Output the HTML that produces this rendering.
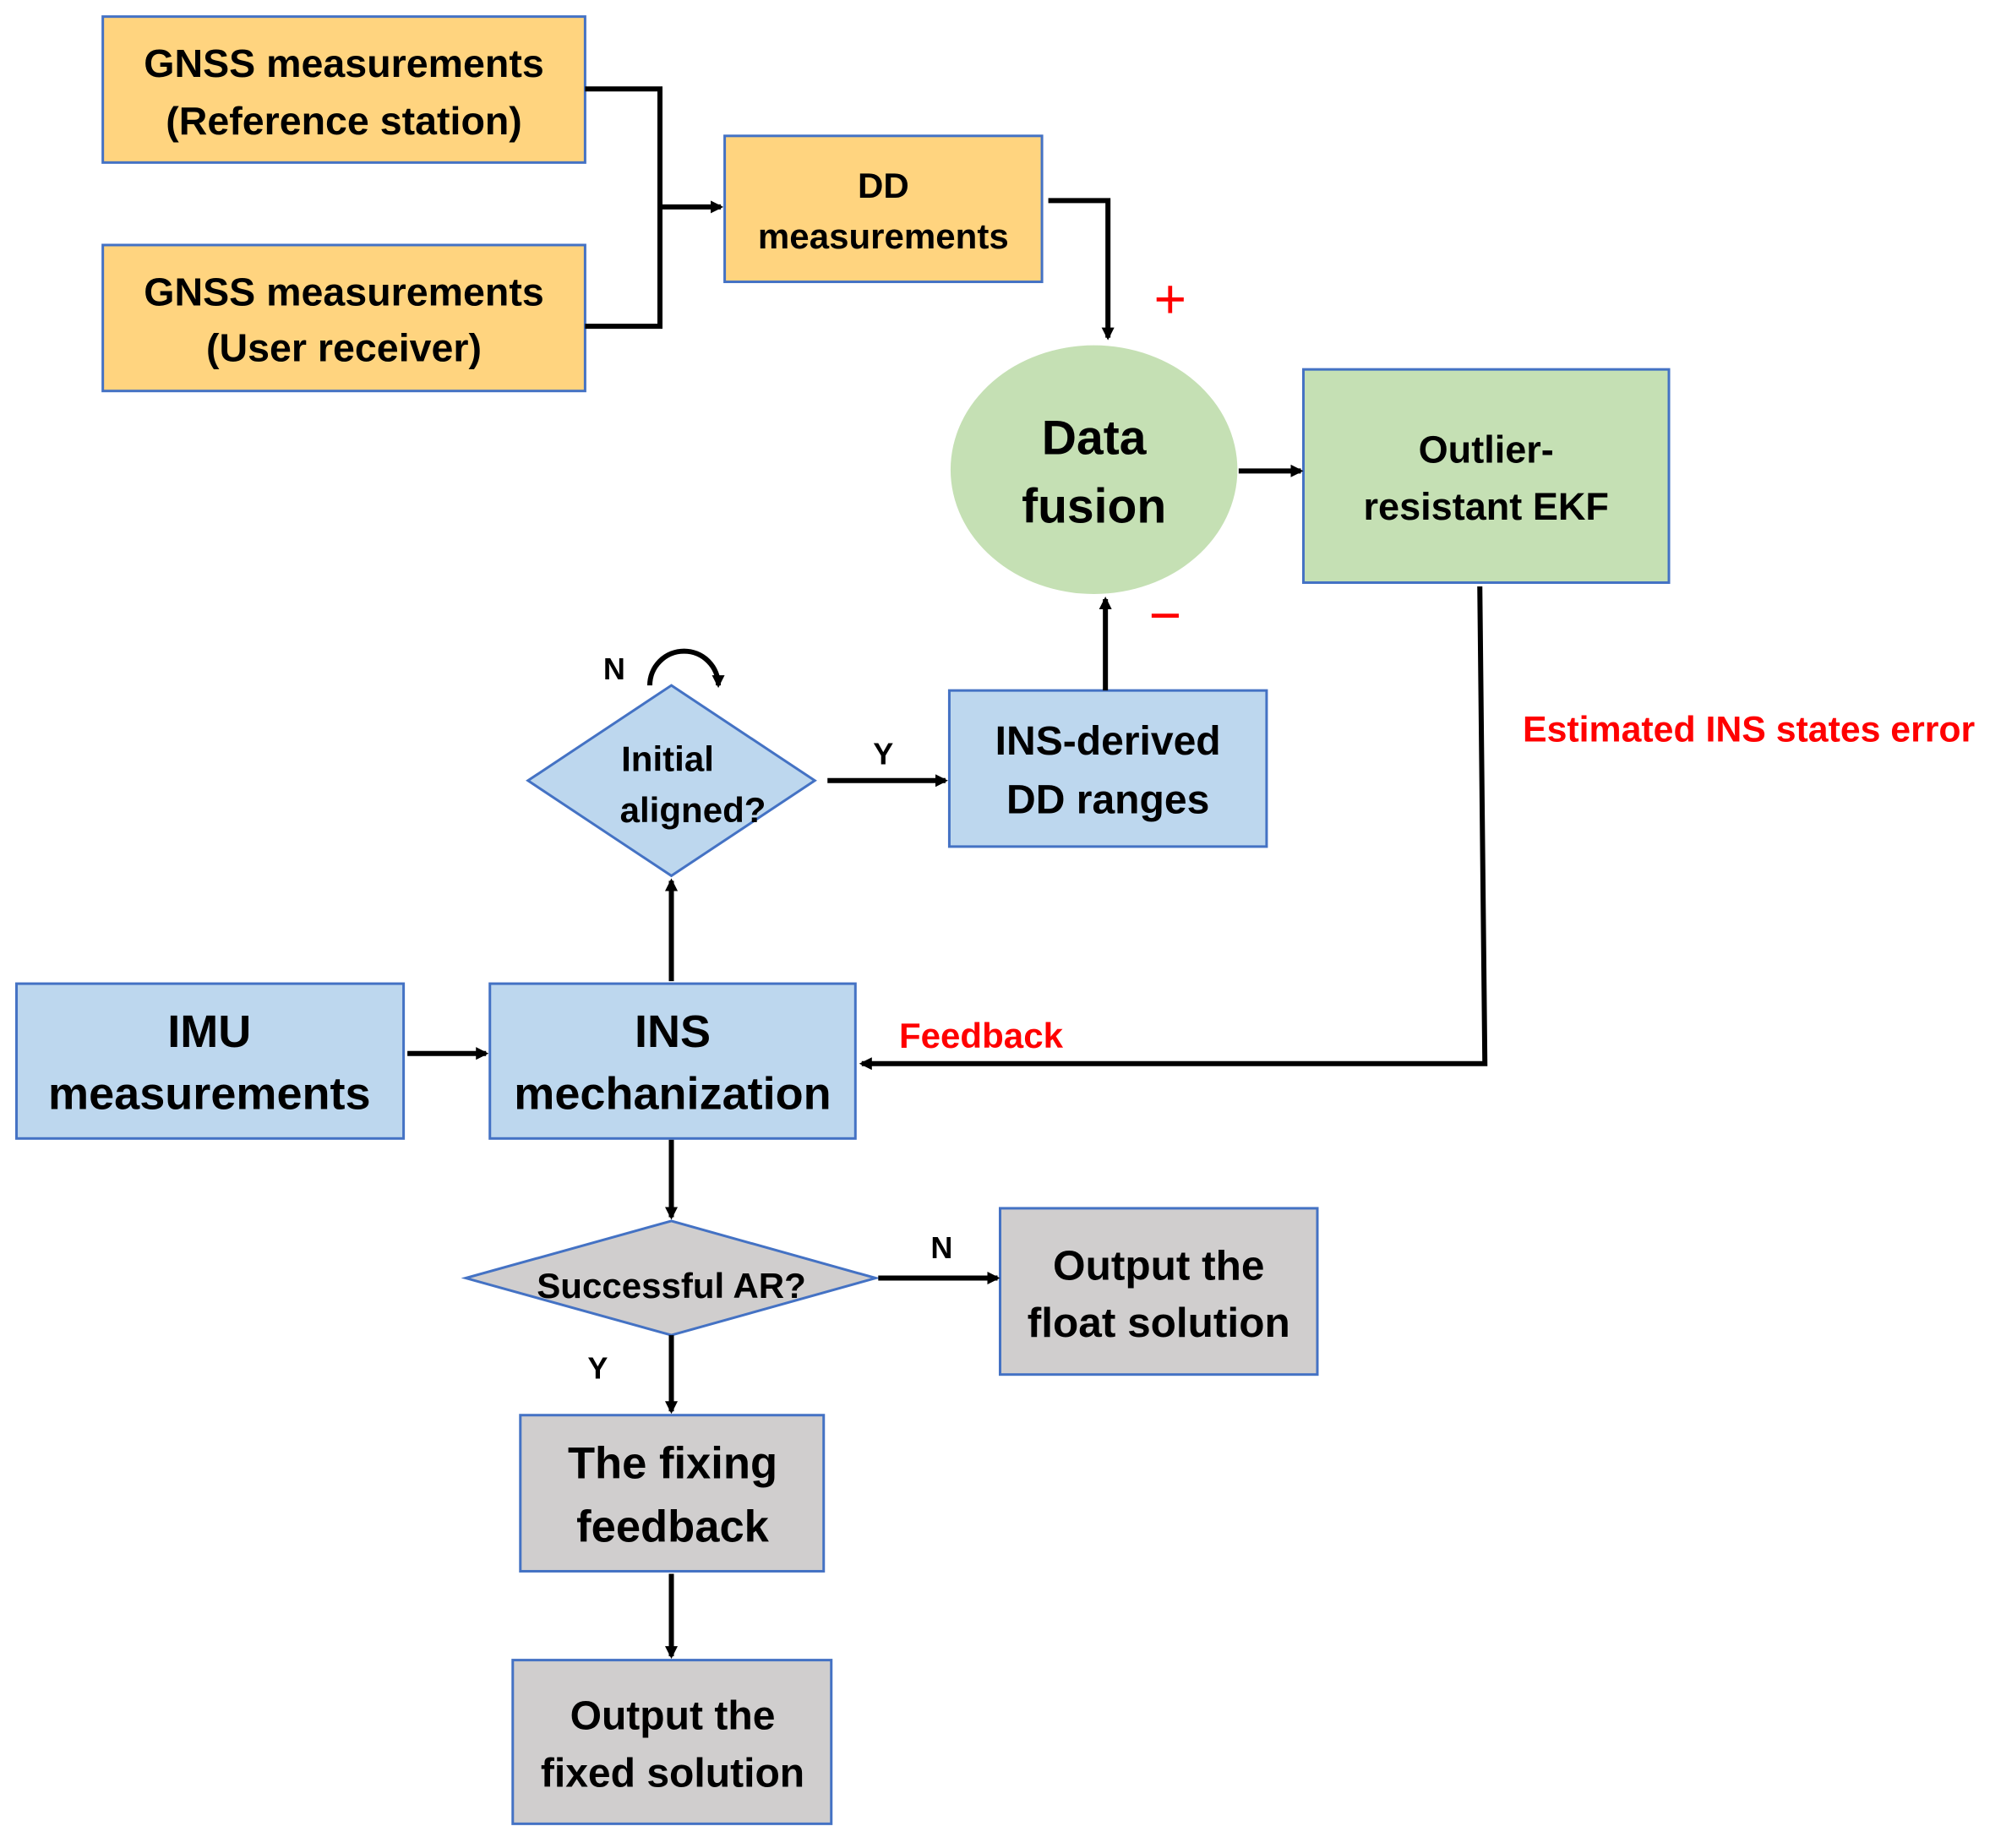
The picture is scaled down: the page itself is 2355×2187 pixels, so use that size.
<!DOCTYPE html>
<html><head><meta charset="utf-8"><style>
html,body{margin:0;padding:0;background:#fff;}
svg{display:block;}
text{font-family:"Liberation Sans",sans-serif;font-weight:bold;fill:#000;text-anchor:middle;dominant-baseline:central;}
</style></head><body>
<svg width="2355" height="2187" viewBox="0 0 1568 1456" xmlns="http://www.w3.org/2000/svg">
<defs>
<marker id="a" markerWidth="10" markerHeight="10" refX="8" refY="5" orient="auto" markerUnits="userSpaceOnUse" viewBox="0 0 10 10">
<path d="M0,0 L10,5 L0,10 z" fill="#000"/></marker>
</defs>
<g stroke="#4472C4" stroke-width="2">
<rect x="81" y="13" width="380" height="115" fill="#FFD47F"/>
<rect x="81" y="193" width="380" height="115" fill="#FFD47F"/>
<rect x="571" y="107" width="250" height="115" fill="#FFD47F"/>
<ellipse cx="862" cy="370" rx="113" ry="98" fill="#C5E0B4" stroke="none"/>
<rect x="1027" y="291" width="288" height="168" fill="#C5E0B4"/>
<rect x="748" y="544" width="250" height="123" fill="#BDD7EE"/>
<polygon points="529,540 642,615 529,690 416,615" fill="#BDD7EE"/>
<rect x="13" y="775" width="305" height="122" fill="#BDD7EE"/>
<rect x="386" y="775" width="288" height="122" fill="#BDD7EE"/>
<polygon points="529,962 690,1007 529,1052 367,1007" fill="#D0CECE"/>
<rect x="788" y="952" width="250" height="131" fill="#D0CECE"/>
<rect x="410" y="1115" width="239" height="123" fill="#D0CECE"/>
<rect x="404" y="1308" width="251" height="129" fill="#D0CECE"/>
</g>
<g stroke="#000" stroke-width="4" fill="none">
<polyline points="461,70 520,70 520,257 461,257"/>
<line x1="520" y1="163" x2="568" y2="163" marker-end="url(#a)"/>
<polyline points="826,158 873,158 873,266" marker-end="url(#a)"/>
<line x1="976" y1="371" x2="1025" y2="371" marker-end="url(#a)"/>
<polyline points="1166,462 1170,838 679,838" marker-end="url(#a)"/>
<line x1="871" y1="544" x2="871" y2="472" marker-end="url(#a)"/>
<line x1="652" y1="615" x2="745" y2="615" marker-end="url(#a)"/>
<line x1="529" y1="773" x2="529" y2="694" marker-end="url(#a)"/>
<line x1="321" y1="830" x2="383" y2="830" marker-end="url(#a)"/>
<line x1="529" y1="898" x2="529" y2="959" marker-end="url(#a)"/>
<line x1="692" y1="1007" x2="786" y2="1007" marker-end="url(#a)"/>
<line x1="529" y1="1052" x2="529" y2="1112" marker-end="url(#a)"/>
<line x1="529" y1="1240" x2="529" y2="1305" marker-end="url(#a)"/>
<path d="M512,540 A27,27 0 1,1 566,540" marker-end="url(#a)"/>
</g>
<text x="271" y="50" font-size="31">GNSS measurements</text>
<text x="271" y="95" font-size="31">(Reference station)</text>
<text x="271" y="230" font-size="31">GNSS measurements</text>
<text x="271" y="274" font-size="31">(User receiver)</text>
<text x="696" y="146" font-size="28">DD</text>
<text x="696" y="186" font-size="28">measurements</text>
<text x="922" y="236" font-size="44" style="fill:#f00;font-weight:normal">+</text>
<text x="918" y="485" font-size="44" style="fill:#f00;font-weight:normal">−</text>
<text x="862" y="345" font-size="38">Data</text>
<text x="862" y="399" font-size="38">fusion</text>
<text x="1171" y="354" font-size="30">Outlier-</text>
<text x="1171" y="399" font-size="30">resistant EKF</text>
<text x="1378" y="575" font-size="28.5" style="fill:#f00">Estimated INS states error</text>
<text x="773" y="816" font-size="28" style="fill:#f00">Feedback</text>
<text x="873" y="584" font-size="32">INS-derived</text>
<text x="873" y="630" font-size="32">DD ranges</text>
<text x="526" y="598" font-size="28">Initial</text>
<text x="546" y="638" font-size="28">aligned?</text>
<text x="484" y="527" font-size="24">N</text>
<text x="696" y="594" font-size="24">Y</text>
<text x="165" y="813" font-size="36">IMU</text>
<text x="165" y="862" font-size="36">measurements</text>
<text x="530" y="813" font-size="36">INS</text>
<text x="530" y="862" font-size="36">mechanization</text>
<text x="529" y="1013" font-size="28">Successful AR?</text>
<text x="742" y="983" font-size="24">N</text>
<text x="471" y="1078" font-size="24">Y</text>
<text x="913" y="997" font-size="33">Output the</text>
<text x="913" y="1042" font-size="33">float solution</text>
<text x="530" y="1153" font-size="35">The fixing</text>
<text x="530" y="1203" font-size="35">feedback</text>
<text x="530" y="1352" font-size="32">Output the</text>
<text x="530" y="1397" font-size="32">fixed solution</text>
</svg>
</body></html>
